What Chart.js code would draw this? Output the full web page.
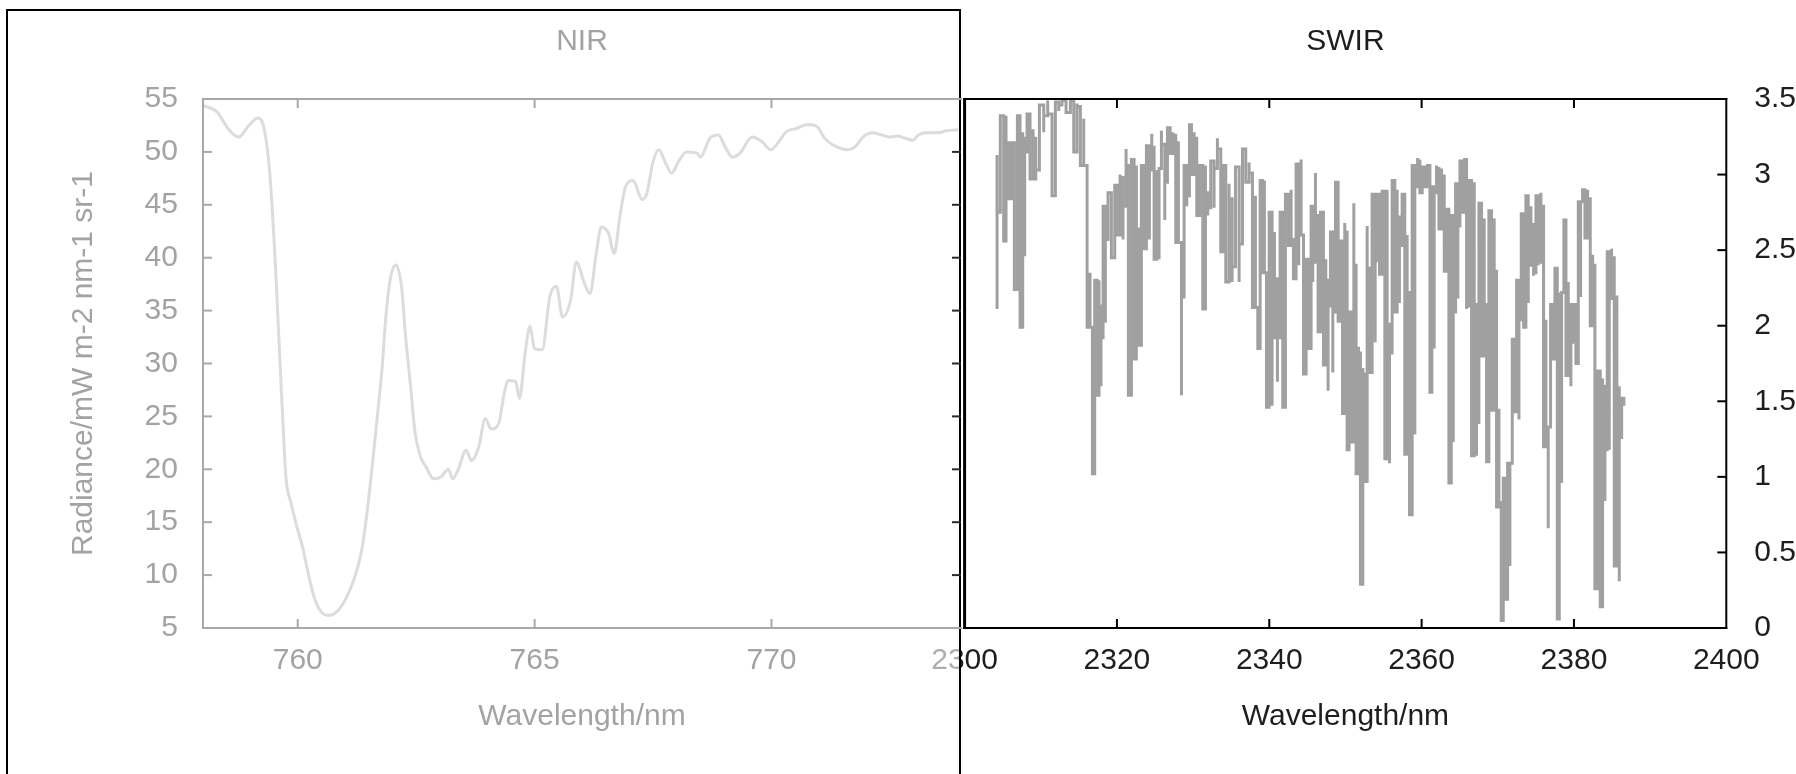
<!DOCTYPE html>
<html>
<head>
<meta charset="utf-8">
<title>NIR / SWIR radiance</title>
<script src="https://cdn.jsdelivr.net/npm/chart.js@4"></script>
<style>
  html, body { margin: 0; padding: 0; background: #fff; }
  body { width: 1796px; height: 774px; position: relative; overflow: hidden; }
  .layer { position: absolute; left: 0; top: 0; width: 1796px; height: 774px; }
  /* the right tick labels hang to the page edge, so this canvas runs a bit past it */
  #swirLayer { width: 1824px; }
  /* NIR panel sits on a translucent white sheet that also dims the SWIR "2300" label */
  #veil {
    position: absolute; left: 6px; top: 9px; width: 955px; height: 800px;
    box-sizing: border-box; border: 2px solid #000;
    background: rgba(255, 255, 255, 0.64);
  }
</style>
</head>
<body>
<div class="layer" id="swirLayer"><canvas id="swir"></canvas></div>
<div id="veil"></div>
<div class="layer"><canvas id="nir"></canvas></div>
<script>
'use strict';

// ---------------------------------------------------------------- data
// NIR (O2 A-band) radiance.
const nirWl = [
  758.00, 758.29, 758.53, 758.75, 758.97, 759.16, 759.29, 759.41, 759.53, 759.65,
  759.69, 759.75, 759.86, 759.98, 760.10, 760.22, 760.34, 760.50, 760.68, 760.86,
  761.02, 761.18, 761.34, 761.46, 761.58, 761.70, 761.78, 761.86, 761.95, 762.07,
  762.19, 762.27, 762.39, 762.47, 762.59, 762.71, 762.87, 763.03, 763.18, 763.27,
  763.39, 763.55, 763.67, 763.82, 763.96, 764.08, 764.24, 764.36, 764.44, 764.60,
  764.68, 764.80, 764.90, 765.00, 765.16, 765.32, 765.46, 765.59, 765.76, 765.88,
  766.05, 766.17, 766.30, 766.41, 766.56, 766.68, 766.80, 766.92, 767.08, 767.27,
  767.37, 767.49, 767.62, 767.77, 767.89, 768.05, 768.21, 768.42, 768.50, 768.70,
  768.88, 769.02, 769.18, 769.34, 769.59, 769.79, 769.99, 770.11, 770.31, 770.52,
  770.76, 770.96, 771.12, 771.28, 771.48, 771.61, 771.77, 771.93, 772.13, 772.33,
  772.49, 772.66, 772.82, 772.98, 773.10, 773.26, 773.50, 773.70, 773.95
];
const nirRad = [
  54.4, 53.8, 52.2, 51.4, 52.5, 53.2, 52.2, 48.0, 39.2, 27.8,
  24.3, 19.3, 16.8, 14.6, 12.7, 10.2, 8.0, 6.5, 6.2, 6.7,
  7.8, 9.5, 12.1, 15.8, 20.6, 25.9, 29.5, 34.4, 37.9, 39.3,
  37.3, 32.9, 27.5, 23.7, 21.2, 20.2, 19.1, 19.3, 20.0, 19.1,
  20.0, 21.8, 20.8, 22.1, 24.8, 23.8, 24.3, 27.2, 28.4, 28.3,
  26.7, 31.0, 33.5, 31.4, 31.3, 36.3, 37.3, 34.4, 36.0, 39.6,
  37.6, 36.6, 40.4, 42.9, 42.3, 40.4, 43.9, 46.7, 47.3, 45.5,
  46.1, 48.9, 50.2, 48.9, 48.0, 49.2, 50.0, 49.9, 49.5, 51.3,
  51.6, 50.5, 49.5, 49.9, 51.4, 51.0, 50.2, 50.7, 51.9, 52.2,
  52.6, 52.4, 51.3, 50.7, 50.3, 50.2, 50.5, 51.4, 51.8, 51.6,
  51.4, 51.5, 51.3, 51.1, 51.6, 51.8, 51.8, 52.0, 52.1
];

// SWIR spectrum: for each wavelength column the top and bottom of the stroke.
const swirWl = [
  2304.26, 2304.69, 2305.13, 2305.44, 2305.79, 2306.14, 2306.53, 2306.93, 2307.28, 2307.63,
  2307.89, 2308.20, 2308.59, 2308.99, 2309.34, 2309.82, 2310.39, 2310.91, 2311.48, 2311.92,
  2312.36, 2312.79, 2313.32, 2313.89, 2314.33, 2314.76, 2315.20, 2315.64, 2316.08, 2316.47,
  2316.78, 2317.08, 2317.39, 2317.65, 2317.91, 2318.18, 2318.48, 2318.83, 2319.27, 2319.71,
  2320.06, 2320.41, 2320.80, 2321.20, 2321.50, 2321.90, 2322.25, 2322.55, 2322.86, 2323.21,
  2323.52, 2323.87, 2324.26, 2324.57, 2324.88, 2325.23, 2325.53, 2325.84, 2326.28, 2326.63,
  2326.98, 2327.33, 2327.72, 2328.07, 2328.47, 2328.82, 2329.17, 2329.52, 2329.78, 2330.13,
  2330.48, 2330.87, 2331.27, 2331.62, 2331.92, 2332.32, 2332.75, 2333.19, 2333.63, 2333.94,
  2334.29, 2334.72, 2335.12, 2335.56, 2336.04, 2336.48, 2336.91, 2337.35, 2337.79, 2338.18,
  2338.49, 2338.80, 2339.10, 2339.36, 2339.63, 2339.98, 2340.37, 2340.68, 2341.07, 2341.42,
  2341.77, 2342.12, 2342.52, 2342.87, 2343.17, 2343.52, 2343.87, 2344.18, 2344.49, 2344.84,
  2345.19, 2345.49, 2345.71, 2346.06, 2346.41, 2346.72, 2347.11, 2347.42, 2347.72, 2348.03,
  2348.34, 2348.69, 2349.04, 2349.34, 2349.61, 2349.91, 2350.22, 2350.48, 2350.79, 2351.10,
  2351.40, 2351.71, 2351.97, 2352.28, 2352.58, 2352.85, 2353.15, 2353.50, 2353.90, 2354.20,
  2354.47, 2354.82, 2355.17, 2355.47, 2355.78, 2356.13, 2356.48, 2356.79, 2357.09, 2357.44,
  2357.79, 2358.10, 2358.41, 2358.76, 2359.11, 2359.47, 2359.77, 2360.08, 2360.43, 2360.78,
  2361.09, 2361.35, 2361.65, 2361.96, 2362.27, 2362.62, 2362.97, 2363.27, 2363.58, 2363.89,
  2364.15, 2364.46, 2364.76, 2365.03, 2365.33, 2365.64, 2365.90, 2366.21, 2366.56, 2366.91,
  2367.21, 2367.52, 2367.87, 2368.22, 2368.53, 2368.83, 2369.18, 2369.53, 2369.84, 2370.15,
  2370.45, 2370.72, 2370.98, 2371.29, 2371.59, 2371.90, 2372.21, 2372.47, 2372.78, 2373.08,
  2373.39, 2373.69, 2374.00, 2374.35, 2374.70, 2375.01, 2375.31, 2375.66, 2376.01, 2376.32,
  2376.62, 2376.93, 2377.19, 2377.50, 2377.81, 2378.07, 2378.38, 2378.68, 2378.95, 2379.25,
  2379.60, 2379.95, 2380.26, 2380.57, 2380.87, 2381.13, 2381.44, 2381.79, 2382.14, 2382.45,
  2382.75, 2383.10, 2383.45, 2383.76, 2384.07, 2384.37, 2384.64, 2384.94, 2385.29, 2385.64,
  2385.95, 2386.26, 2386.56
];
const swirHigh = [
  3.13, 2.86, 3.39, 3.39, 3.21, 3.21, 3.21, 3.38, 3.39, 3.28,
  3.24, 3.30, 3.40, 3.30, 3.24, 3.28, 3.46, 3.49, 3.40, 3.28,
  3.48, 3.49, 3.49, 3.43, 3.49, 3.47, 3.45, 3.37, 3.06, 2.35,
  1.99, 1.55, 2.30, 2.30, 2.13, 2.09, 2.79, 2.85, 2.88, 2.90,
  2.93, 3.00, 2.98, 3.17, 3.06, 1.92, 3.10, 3.06, 2.64, 2.64,
  3.06, 3.01, 3.19, 3.27, 3.18, 3.03, 2.93, 3.29, 3.20, 3.15,
  3.31, 3.28, 3.26, 3.22, 2.55, 3.06, 3.06, 3.03, 3.33, 3.28,
  3.24, 3.06, 3.06, 3.06, 2.88, 3.09, 3.09, 3.24, 3.17, 3.06,
  3.06, 2.94, 2.84, 3.05, 3.05, 3.09, 3.17, 3.08, 3.01, 2.86,
  2.12, 2.93, 2.96, 2.96, 2.35, 2.31, 2.75, 2.62, 2.31, 2.71,
  2.75, 2.84, 2.87, 2.90, 2.57, 2.62, 3.07, 3.10, 2.60, 2.44,
  2.44, 2.35, 2.79, 3.01, 2.73, 2.71, 2.75, 2.44, 2.30, 2.29,
  2.62, 2.92, 2.95, 2.56, 2.56, 2.68, 2.62, 2.09, 2.09, 2.81,
  2.40, 1.86, 1.82, 1.72, 1.68, 2.66, 2.38, 2.85, 2.87, 2.68,
  2.87, 2.73, 2.89, 2.90, 2.01, 2.67, 2.96, 2.90, 2.72, 2.86,
  2.87, 2.60, 2.22, 1.29, 3.06, 3.11, 3.09, 3.05, 3.05, 3.06,
  3.06, 2.92, 2.92, 3.06, 3.04, 3.04, 2.99, 2.77, 2.77, 2.46,
  2.73, 2.68, 2.94, 2.97, 3.09, 3.10, 3.10, 2.97, 2.96, 2.95,
  2.14, 2.76, 2.81, 2.71, 2.14, 2.45, 2.76, 2.71, 2.36, 1.45,
  0.83, 0.99, 0.99, 0.74, 1.09, 1.85, 1.91, 1.91, 2.30, 2.71,
  2.74, 2.74, 2.86, 2.79, 2.67, 2.67, 2.86, 2.88, 2.79, 2.04,
  1.33, 2.14, 2.14, 2.36, 2.38, 1.78, 2.21, 2.54, 2.70, 2.29,
  2.14, 2.08, 2.14, 2.19, 2.82, 2.86, 2.90, 2.90, 2.84, 2.47,
  2.40, 1.58, 1.70, 1.65, 1.60, 1.60, 2.49, 2.51, 2.45, 2.20,
  1.59, 1.50, 1.52
];
const swirLow = [
  2.11, 2.75, 2.64, 2.56, 2.88, 2.84, 2.72, 2.24, 2.24, 1.99,
  2.46, 3.15, 3.07, 2.97, 2.96, 3.03, 3.28, 3.39, 3.28, 2.86,
  3.42, 3.46, 3.41, 3.41, 3.28, 3.15, 3.09, 3.06, 2.36, 1.99,
  1.05, 1.02, 1.55, 1.54, 1.60, 1.92, 2.02, 2.57, 2.45, 2.45,
  2.84, 2.60, 2.57, 2.79, 1.92, 1.54, 1.87, 1.78, 1.87, 1.87,
  2.50, 2.51, 2.57, 3.03, 3.03, 2.44, 2.44, 3.04, 2.70, 2.95,
  3.15, 3.14, 3.14, 2.55, 1.54, 2.19, 2.79, 2.86, 3.03, 3.00,
  2.73, 2.73, 2.17, 2.11, 2.73, 2.78, 2.78, 3.04, 2.57, 2.49,
  2.75, 2.29, 2.29, 2.39, 2.29, 2.54, 2.95, 2.95, 2.86, 2.12,
  1.85, 1.85, 2.44, 2.35, 1.46, 1.46, 1.47, 1.92, 1.63, 1.92,
  1.63, 1.46, 2.65, 2.53, 2.46, 2.31, 2.40, 2.60, 2.04, 1.68,
  1.85, 1.85, 2.29, 2.42, 2.00, 1.96, 1.80, 1.74, 1.57, 2.13,
  1.69, 2.09, 2.18, 2.03, 1.42, 1.42, 1.39, 1.18, 1.23, 1.23,
  1.02, 1.02, 0.49, 0.29, 0.97, 0.97, 1.69, 1.69, 1.89, 2.43,
  2.34, 2.34, 2.02, 1.12, 1.09, 1.82, 2.09, 2.09, 2.15, 2.53,
  2.23, 1.15, 0.83, 0.75, 1.28, 2.92, 2.87, 2.88, 2.92, 2.92,
  1.98, 1.56, 1.85, 2.88, 2.87, 2.64, 2.45, 2.36, 0.96, 0.96,
  1.23, 2.09, 2.18, 2.66, 2.90, 2.75, 2.11, 2.13, 2.14, 1.14,
  1.14, 1.36, 1.82, 1.80, 1.10, 1.10, 1.80, 1.44, 1.44, 0.80,
  0.05, 0.05, 0.30, 0.19, 0.41, 1.09, 1.76, 1.43, 1.38, 2.04,
  2.04, 1.99, 2.15, 2.40, 2.33, 2.35, 2.40, 2.42, 2.04, 1.20,
  0.66, 1.33, 1.78, 1.78, 0.18, 0.06, 0.96, 2.22, 2.29, 1.67,
  1.60, 1.89, 1.82, 1.75, 2.19, 2.82, 2.84, 2.58, 2.15, 2.00,
  1.58, 0.26, 0.50, 0.14, 0.84, 1.18, 1.18, 2.18, 2.20, 0.41,
  0.31, 1.26, 1.47
];

// Tick values for both panels.
const nirXTicks = [760, 765, 770];
const nirYTicks = [5, 10, 15, 20, 25, 30, 35, 40, 45, 50, 55];
const swirXTicks = [2300, 2320, 2340, 2360, 2380, 2400];
const swirYTicks = [0, 0.5, 1, 1.5, 2, 2.5, 3, 3.5];

// -------------------------------------------------------------- styling
const FONT = "'Liberation Sans', Arial, sans-serif";
const NIR_INK = '#a3a3a3';
const NIR_AXIS = '#a8a8a8';
const NIR_LINE = '#dcdcdc';
const SWIR_INK = '#1e1e1e';
const SWIR_LINE = '#a0a0a0';

Chart.defaults.font.family = FONT;
Chart.defaults.font.size = 30;

// Plot frame plus inward-pointing tick marks, placed from the scales.
const framePlugin = {
  id: 'frame',
  afterDatasetsDraw(chart, args, opts) {
    const ctx = chart.ctx;
    const a = chart.chartArea;
    const xs = chart.scales.x;
    const ys = chart.scales.y;
    function seg(x1, y1, x2, y2, color, width) {
      ctx.beginPath();
      ctx.moveTo(x1, y1);
      ctx.lineTo(x2, y2);
      ctx.strokeStyle = color;
      ctx.lineWidth = width;
      ctx.stroke();
    }
    ctx.save();
    ctx.lineCap = 'butt';
    const s = opts.sides;
    if (s.top) seg(a.left - 1, a.top, a.right + 1, a.top, s.top.color, s.top.width);
    if (s.bottom) seg(a.left - 1, a.bottom, a.right + 1, a.bottom, s.bottom.color, s.bottom.width);
    if (s.left) seg(a.left, a.top - 1, a.left, a.bottom + 1, s.left.color, s.left.width);
    if (s.right) seg(a.right, a.top - 1, a.right, a.bottom + 1, s.right.color, s.right.width);

    const len = opts.tickLength;
    const t = opts.ticks;
    xs.ticks.forEach(function (tk) {
      const px = xs.getPixelForValue(tk.value);
      if (px - a.left < 2 || a.right - px < 2) return;   // edge ticks sit on the frame
      if (t.top) seg(px, a.top, px, a.top + len, t.top, opts.tickWidth);
      if (t.bottom) seg(px, a.bottom, px, a.bottom - len, t.bottom, opts.tickWidth);
    });
    ys.ticks.forEach(function (tk) {
      const py = ys.getPixelForValue(tk.value);
      if (py - a.top < 2 || a.bottom - py < 2) return;
      if (t.left) seg(a.left, py, a.left + len, py, t.left, opts.tickWidth);
      if (t.right) seg(a.right, py, a.right - len, py, t.right, opts.tickWidth);
    });
    ctx.restore();
  }
};

function fixedTicks(values) {
  return function (scale) {
    scale.ticks = values.map(function (v) { return { value: v }; });
  };
}

// Note: Chart.js reserves ticks.padding twice when sizing an axis.
function xAxis(min, max, ticks, ink) {
  return {
    type: 'linear',
    position: 'bottom',
    min: min,
    max: max,
    afterBuildTicks: fixedTicks(ticks),
    border: { display: false },
    grid: { display: false, drawTicks: false },
    ticks: {
      color: ink, padding: 15, maxRotation: 0, autoSkip: false,
      callback: function (v) { return String(v); },
    },
    title: {
      display: true, text: 'Wavelength/nm', color: ink,
      padding: { top: 4.5, bottom: 39.5 },
    },
  };
}

function title(text, ink) {
  return {
    display: true, text: text, color: ink, fullSize: false,
    font: { size: 30, weight: 'normal' },
    padding: { top: 24, bottom: 39 },
  };
}

// ------------------------------------------------------------------ NIR
const nirPoints = nirWl.map(function (w, i) { return { x: w, y: nirRad[i] }; });

new Chart(document.getElementById('nir'), {
  type: 'line',
  data: {
    datasets: [{
      data: nirPoints,
      borderColor: NIR_LINE,
      borderWidth: 3,
      pointRadius: 0,
      tension: 0.25,
      cubicInterpolationMode: 'monotone',
    }],
  },
  options: {
    responsive: true,
    maintainAspectRatio: false,
    devicePixelRatio: 1,
    animation: false,
    events: [],
    layout: { padding: { left: 50, right: 835, top: 0, bottom: 0 } },
    plugins: {
      legend: { display: false },
      tooltip: { enabled: false },
      title: title('NIR', NIR_INK),
      frame: {
        sides: {
          top: { color: NIR_AXIS, width: 2 },
          bottom: { color: NIR_AXIS, width: 2 },
          left: { color: NIR_AXIS, width: 2 },
        },
        ticks: { top: NIR_AXIS, bottom: NIR_AXIS, left: NIR_AXIS, right: '#2a2a2a' },
        tickLength: 9,
        tickWidth: 2,
      },
    },
    scales: {
      x: xAxis(758, 774, nirXTicks, NIR_INK),
      y: {
        type: 'linear',
        position: 'left',
        min: 5,
        max: 55,
        afterBuildTicks: fixedTicks(nirYTicks),
        border: { display: false },
        grid: { display: false, drawTicks: false },
        ticks: { color: NIR_INK, padding: 25, callback: function (v) { return String(v); } },
        title: {
          display: true, text: 'Radiance/mW m-2 nm-1 sr-1', color: NIR_INK,
          padding: { top: 16, bottom: 17.6 },
        },
      },
    },
  },
  plugins: [framePlugin],
});

// ----------------------------------------------------------------- SWIR
// Each column is drawn top->bottom or bottom->top in turn, and the trace is
// stepped, so it reads as the blocky run of absorption lines in the original.
const swirPoints = [];
swirWl.forEach(function (w, i) {
  const first = i % 2 ? swirLow[i] : swirHigh[i];
  const second = i % 2 ? swirHigh[i] : swirLow[i];
  swirPoints.push({ x: w, y: first }, { x: w, y: second });
});

new Chart(document.getElementById('swir'), {
  type: 'line',
  data: {
    datasets: [{
      data: swirPoints,
      borderColor: SWIR_LINE,
      borderWidth: 3,
      pointRadius: 0,
      stepped: 'after',
    }],
  },
  options: {
    responsive: true,
    maintainAspectRatio: false,
    devicePixelRatio: 1,
    animation: false,
    events: [],
    layout: { padding: { left: 964.6, right: 0, top: 0, bottom: 0 } },
    plugins: {
      legend: { display: false },
      tooltip: { enabled: false },
      title: title('SWIR', SWIR_INK),
      frame: {
        sides: {
          top: { color: '#000', width: 2 },
          bottom: { color: '#000', width: 2 },
          left: { color: '#000', width: 3 },
          right: { color: '#000', width: 2 },
        },
        ticks: { top: '#000', bottom: '#000', right: '#000' },
        tickLength: 9,
        tickWidth: 2,
      },
    },
    scales: {
      x: xAxis(2300, 2400, swirXTicks, SWIR_INK),
      y: {
        type: 'linear',
        position: 'right',
        min: 0,
        max: 3.5,
        afterBuildTicks: fixedTicks(swirYTicks),
        border: { display: false },
        grid: { display: false, drawTicks: false },
        ticks: { color: SWIR_INK, padding: 28, callback: function (v) { return String(v); } },
      },
    },
  },
  plugins: [framePlugin],
});
</script>
</body>
</html>
